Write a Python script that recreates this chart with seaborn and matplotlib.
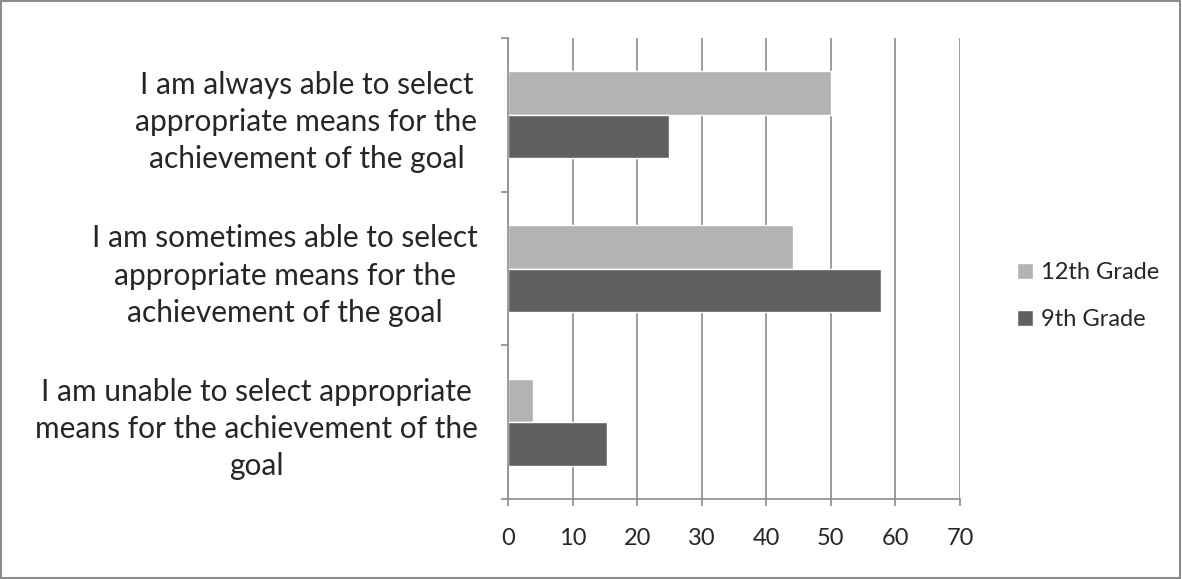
import matplotlib.pyplot as plt
import matplotlib.patches as mpatches
import pandas as pd
import seaborn as sns

categories = [
    'I am always able to select\nappropriate means for the\nachievement of the goal',
    'I am sometimes able to select\nappropriate means for the\nachievement of the goal',
    'I am unable to select appropriate\nmeans for the achievement of the\ngoal',
]
grade_12 = [50.0, 44.2, 3.8]
grade_9 = [25.0, 57.7, 15.4]
series_names = ['12th Grade', '9th Grade']
x_ticks = [0, 10, 20, 30, 40, 50, 60, 70]

df = pd.DataFrame({
    'category': categories * 2,
    'value': grade_12 + grade_9,
    'grade': [series_names[0]] * 3 + [series_names[1]] * 3,
})

sns.set_style('white')
plt.rcParams['font.family'] = ['Lato', 'DejaVu Sans']

fig = plt.figure(figsize=(11.82, 5.79), dpi=100)
ax = fig.add_axes([508 / 1182, 1 - 499 / 579, 452 / 1182, 461 / 579])

sns.barplot(data=df, y='category', x='value', hue='grade', order=categories,
            hue_order=series_names, palette=['#b3b3b3', '#606060'],
            width=0.567, saturation=1, orient='h', ax=ax, legend=True)

ax.set_xlim(0, 70)
ax.set_ylim(2.5, -0.5)
ax.set_xticks(x_ticks)
ax.set_xlabel('')
ax.set_ylabel('')
ax.grid(axis='x', color='#8c8c8c', linewidth=1.2)
ax.set_axisbelow(True)
for s in ['top', 'right']:
    ax.spines[s].set_visible(False)
for s in ['left', 'bottom']:
    ax.spines[s].set_color('#8c8c8c')
    ax.spines[s].set_linewidth(1.2)

ax.tick_params(axis='y', which='major', length=0, pad=22, labelsize=21.5)
for lbl in ax.get_yticklabels():
    lbl.set_multialignment('center')
    lbl.set_linespacing(1.4)
ax.set_yticks([-0.5, 0.5, 1.5, 2.5], minor=True)
ax.tick_params(axis='y', which='minor', length=5, color='#8c8c8c', width=1.2, left=True)
ax.tick_params(axis='x', length=5, color='#8c8c8c', width=1.2, bottom=True, pad=16, labelsize=17)

ax.legend(loc='center left', bbox_to_anchor=(1.08, 0.44), frameon=False,
          fontsize=17, handlelength=0.65, handleheight=0.65, handletextpad=0.35,
          labelspacing=1.1)

fig.patches.append(mpatches.Rectangle((0.001, 0.002), 0.997, 0.996, transform=fig.transFigure,
                                      fill=False, edgecolor='#8c8c8c', linewidth=1.5))

fig.savefig('out.png', dpi=100)
